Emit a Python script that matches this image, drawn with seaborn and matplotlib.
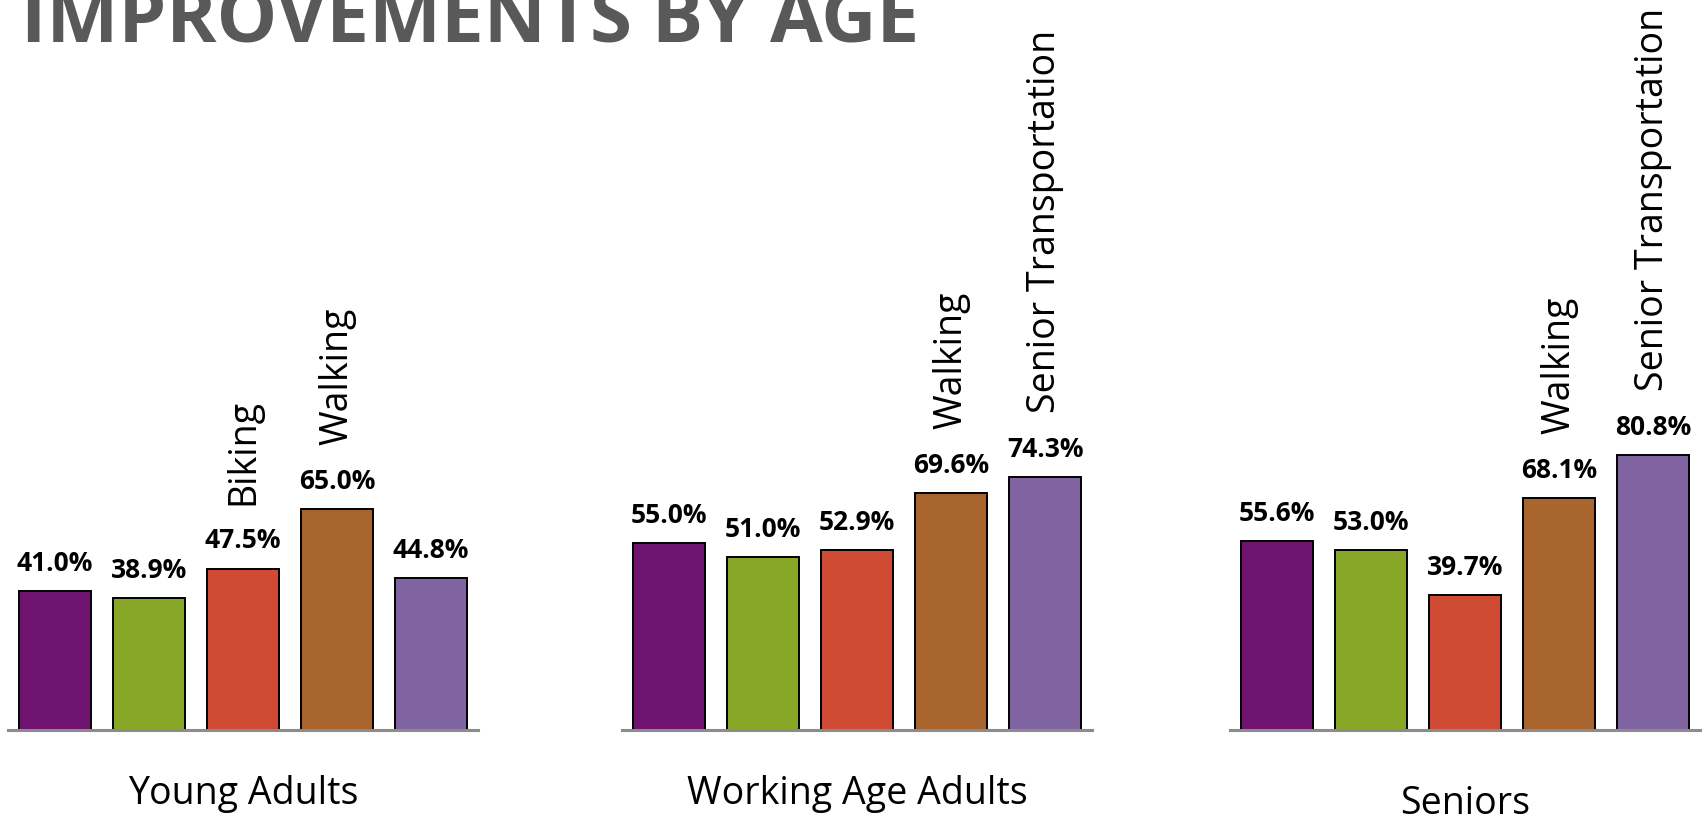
import pandas as pd
import seaborn as sns
import matplotlib.pyplot as plt

# data
groups = ["Young Adults", "Working Age Adults", "Seniors"]
young_adults = [41.0, 38.9, 47.5, 65.0, 44.8]
working_age = [55.0, 51.0, 52.9, 69.6, 74.3]
seniors = [55.6, 53.0, 39.7, 68.1, 80.8]
# only the two tallest bars of each group carry a name in the picture
young_names = ["", "", "Biking", "Walking", ""]
working_names = ["", "", "", "Walking", "Senior Transportation"]
senior_names = ["", "", "", "Walking", "Senior Transportation"]
bar_colors = ["#6E1370", "#89A727", "#D04B33", "#A8652D", "#8064A1"]

values = [young_adults, working_age, seniors]
names = [young_names, working_names, senior_names]

sns.set_theme(style="white")
plt.rcParams['font.family'] = ['Open Sans', 'DejaVu Sans']

W, H = 1702, 822
fig = plt.figure(figsize=(W / 100, H / 100), dpi=100)

px_per_unit = 3.40
base_y = 730
top_y = 70
panel_left = [8, 622, 1230]
panel_w = 470
label_base = [804, 804, 814]

for i, grp in enumerate(groups):
    ax = fig.add_axes([panel_left[i] / W, (H - base_y) / H,
                       panel_w / W, (base_y - top_y) / H])
    df = pd.DataFrame({"pos": range(5), "val": values[i]})
    sns.barplot(data=df, x="pos", y="val", hue="pos", palette=bar_colors,
                saturation=1, width=0.77, edgecolor="black", linewidth=1.4,
                legend=False, ax=ax)
    ax.set_xlim(-0.5, 4.5)
    ax.set_ylim(0, (base_y - top_y) / px_per_unit)
    for s in ["top", "left", "right"]:
        ax.spines[s].set_visible(False)
    ax.spines["bottom"].set_color("#8C8C8C")
    ax.spines["bottom"].set_linewidth(2.2)
    ax.set_xticks([])
    ax.set_yticks([])
    ax.set_xlabel("")
    ax.set_ylabel("")

    for j, v in enumerate(values[i]):
        ax.text(j, v + 20 / px_per_unit, f"{v:.1f}%", ha="center", va="baseline",
                fontsize=19, fontweight="bold", color="black", clip_on=False)
        if names[i][j]:
            ax.text(j, v + 64 / px_per_unit, names[i][j], rotation=90,
                    ha="center", va="bottom", fontsize=27, color="black",
                    clip_on=False)

    fig.text((panel_left[i] + panel_w / 2) / W, (H - label_base[i]) / H, grp,
             ha="center", va="baseline", fontsize=27, color="black")

# the title sits partly above the top edge, as in the reference
fig.text(21 / W, (H - 42) / H, "IMPROVEMENTS BY AGE", ha="left", va="baseline",
         fontsize=55, fontweight="bold", color="#595959")

fig.savefig("out.png", dpi=100)
